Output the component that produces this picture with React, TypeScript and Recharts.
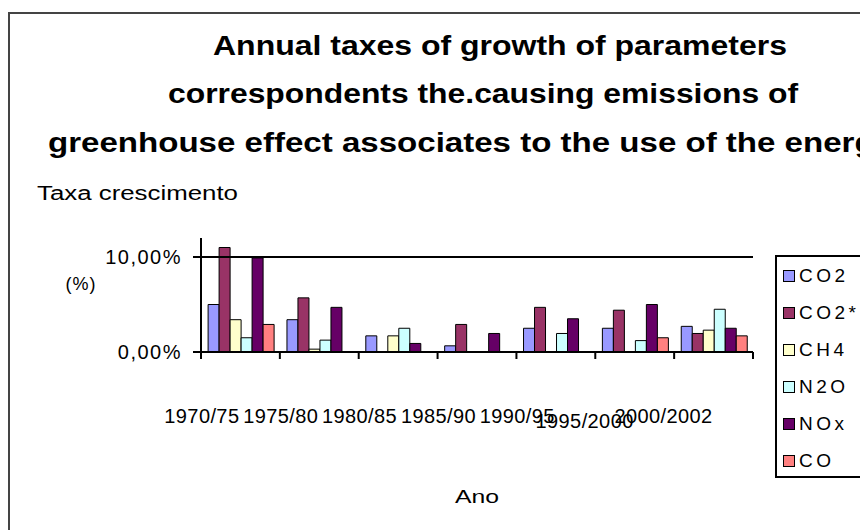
import React from 'react';
import { BarChart, Bar, XAxis, YAxis, ReferenceLine, Legend } from 'recharts';

// ---- data ----
const categories = ['1970/75', '1975/80', '1980/85', '1985/90', '1990/95', '1995/2000', '2000/2002'];
const seriesNames = ['CO2', 'CO2*', 'CH4', 'N2O', 'NOx', 'CO'];
const co2 = [0.050, 0.034, 0.017, 0.0065, 0.025, 0.025, 0.027];
const co2Star = [0.110, 0.057, 0, 0.029, 0.047, 0.044, 0.0195];
const ch4 = [0.034, 0.003, 0.017, 0, 0, 0, 0.023];
const n2o = [0.015, 0.0125, 0.025, 0, 0.0195, 0.012, 0.045];
const nox = [0.099, 0.047, 0.009, 0.0195, 0.035, 0.050, 0.025];
const co = [0.029, 0, 0, 0, 0, 0.015, 0.017];
const yTicks = [0, 0.1];
const yTickLabels = ['0,00%', '10,00%'];
const titleLines = [
  'Annual taxes of growth of parameters',
  'correspondents the.causing emissions of',
  'greenhouse effect associates to the use of the energy',
];
const yAxisTitle = 'Taxa crescimento';
const yUnit = '(%)';
const xAxisTitle = 'Ano';

const colors = ['#9999FF', '#993366', '#FFFFCC', '#CCFFFF', '#660066', '#FF8080'];
const seriesValues = [co2, co2Star, ch4, n2o, nox, co];

const data = categories.map((c, i) => {
  const row: Record<string, string | number> = { name: c };
  seriesNames.forEach((s, k) => {
    row[s] = seriesValues[k][i];
  });
  return row;
});

// ---- layout ----
const W = 860;
const H = 530;
const PLOT_LEFT = 201;
const PLOT_RIGHT = 753;
const PLOT_TOP = 238;
const PLOT_BOTTOM = 352;
const X_AXIS_H = 30;
const BAND = (PLOT_RIGHT - PLOT_LEFT) / categories.length;
const AXIS_FONT = "Arial, 'Liberation Sans', sans-serif";

const XTick = (props: any) => {
  const { x, payload, index } = props;
  const half = BAND / 2;
  const last = index === categories.length - 1;
  const dy = payload.value === '1995/2000' ? 5 : 0;
  return (
    <g>
      <line x1={x - half} y1={PLOT_BOTTOM} x2={x - half} y2={PLOT_BOTTOM + 7} stroke="#000" strokeWidth={2} />
      {last && <line x1={x + half} y1={PLOT_BOTTOM} x2={x + half} y2={PLOT_BOTTOM + 7} stroke="#000" strokeWidth={2} />}
      <text x={x - 1} y={PLOT_BOTTOM + 71 + dy} textAnchor="end" fontFamily={AXIS_FONT} fontSize={20} letterSpacing={0.4} fill="#000">
        {payload.value}
      </text>
    </g>
  );
};

const YTick = (props: any) => {
  const { y, payload } = props;
  const label = yTickLabels[yTicks.indexOf(payload.value)] ?? '';
  return (
    <g>
      <line x1={PLOT_LEFT - 8} y1={y} x2={PLOT_LEFT + 4} y2={y} stroke="#000" strokeWidth={2} />
      <text x={182} y={y + 7} textAnchor="end" fontFamily={AXIS_FONT} fontSize={20} letterSpacing={1.5} fill="#000">
        {label}
      </text>
    </g>
  );
};

const renderLegend = (props: any) => {
  const payload = props.payload || [];
  const ordered = seriesNames
    .map((n) => payload.find((p: any) => p.value === n || p.dataKey === n))
    .filter(Boolean);
  return (
    <div
      style={{
        width: 110,
        height: 223,
        border: '2px solid #000',
        boxSizing: 'border-box',
        background: '#fff',
        position: 'relative',
        fontFamily: AXIS_FONT,
        fontSize: 19,
        color: '#000',
      }}
    >
      {ordered.map((p: any, i: number) => (
        <div
          key={p.value}
          style={{
            position: 'absolute',
            left: 6,
            top: 11 + i * 37,
            height: 16,
            display: 'flex',
            alignItems: 'center',
            whiteSpace: 'nowrap',
          }}
        >
          <span
            style={{
              display: 'inline-block',
              width: 10,
              height: 10,
              background: p.color,
              border: '1.5px solid #000',
              marginRight: 4,
            }}
          />
          <span style={{ letterSpacing: 3.5, lineHeight: '16px' }}>{p.value}</span>
        </div>
      ))}
    </div>
  );
};

export default function App() {
  return (
    <div style={{ position: 'fixed', left: 0, top: 0, width: W, height: H, overflow: 'hidden', background: '#fff' }}>
      <div
        style={{
          position: 'absolute',
          left: 8,
          top: 12,
          width: 1000,
          height: 700,
          border: '2px solid #444',
          boxSizing: 'border-box',
        }}
      />
      <svg width={W} height={H} style={{ position: 'absolute', left: 0, top: 0 }}>
        <g fontFamily="'Liberation Sans Narrow', 'Arial Narrow', 'Liberation Sans', Arial, sans-serif" fontWeight="bold" fontSize={28} fill="#000">
          <text x={213} y={55} textLength={574} lengthAdjust="spacingAndGlyphs">{titleLines[0]}</text>
          <text x={168} y={103} textLength={630} lengthAdjust="spacingAndGlyphs">{titleLines[1]}</text>
          <text x={48} y={152} textLength={845} lengthAdjust="spacingAndGlyphs">{titleLines[2]}</text>
        </g>
        <text x={37} y={200} fontFamily={AXIS_FONT} fontSize={20} textLength={201} lengthAdjust="spacingAndGlyphs" fill="#000">
          {yAxisTitle}
        </text>
        <text x={81} y={290} textAnchor="middle" fontFamily={AXIS_FONT} fontSize={18} letterSpacing={1} fill="#000">
          {yUnit}
        </text>
        <text x={455} y={503} fontFamily={AXIS_FONT} fontSize={18} textLength={44} lengthAdjust="spacingAndGlyphs" fill="#000">
          {xAxisTitle}
        </text>
      </svg>
      <div style={{ position: 'absolute', left: 0, top: 0 }}>
        <BarChart
          width={W}
          height={H}
          data={data}
          margin={{ top: PLOT_TOP, right: W - PLOT_RIGHT, bottom: H - PLOT_BOTTOM - X_AXIS_H, left: 0 }}
          barCategoryGap="9%"
          barGap={0}
        >
          <XAxis
            dataKey="name"
            height={X_AXIS_H}
            interval={0}
            tickLine={false}
            axisLine={{ stroke: '#000', strokeWidth: 2 }}
            tick={<XTick />}
          />
          <YAxis
            width={PLOT_LEFT}
            domain={[0, 0.12]}
            ticks={yTicks}
            tickLine={false}
            axisLine={{ stroke: '#000', strokeWidth: 2 }}
            tick={<YTick />}
            allowDataOverflow
          />
          <ReferenceLine y={yTicks[1]} stroke="#000" strokeWidth={2} />
          <Legend
            layout="vertical"
            align="center"
            verticalAlign="middle"
            content={renderLegend}
            wrapperStyle={{ position: 'absolute', left: 775, top: 255, width: 110, height: 223 }}
          />
          {seriesNames.map((s, k) => (
            <Bar key={s} dataKey={s} fill={colors[k]} stroke="#000" strokeWidth={1} isAnimationActive={false} />
          ))}
        </BarChart>
      </div>
    </div>
  );
}
